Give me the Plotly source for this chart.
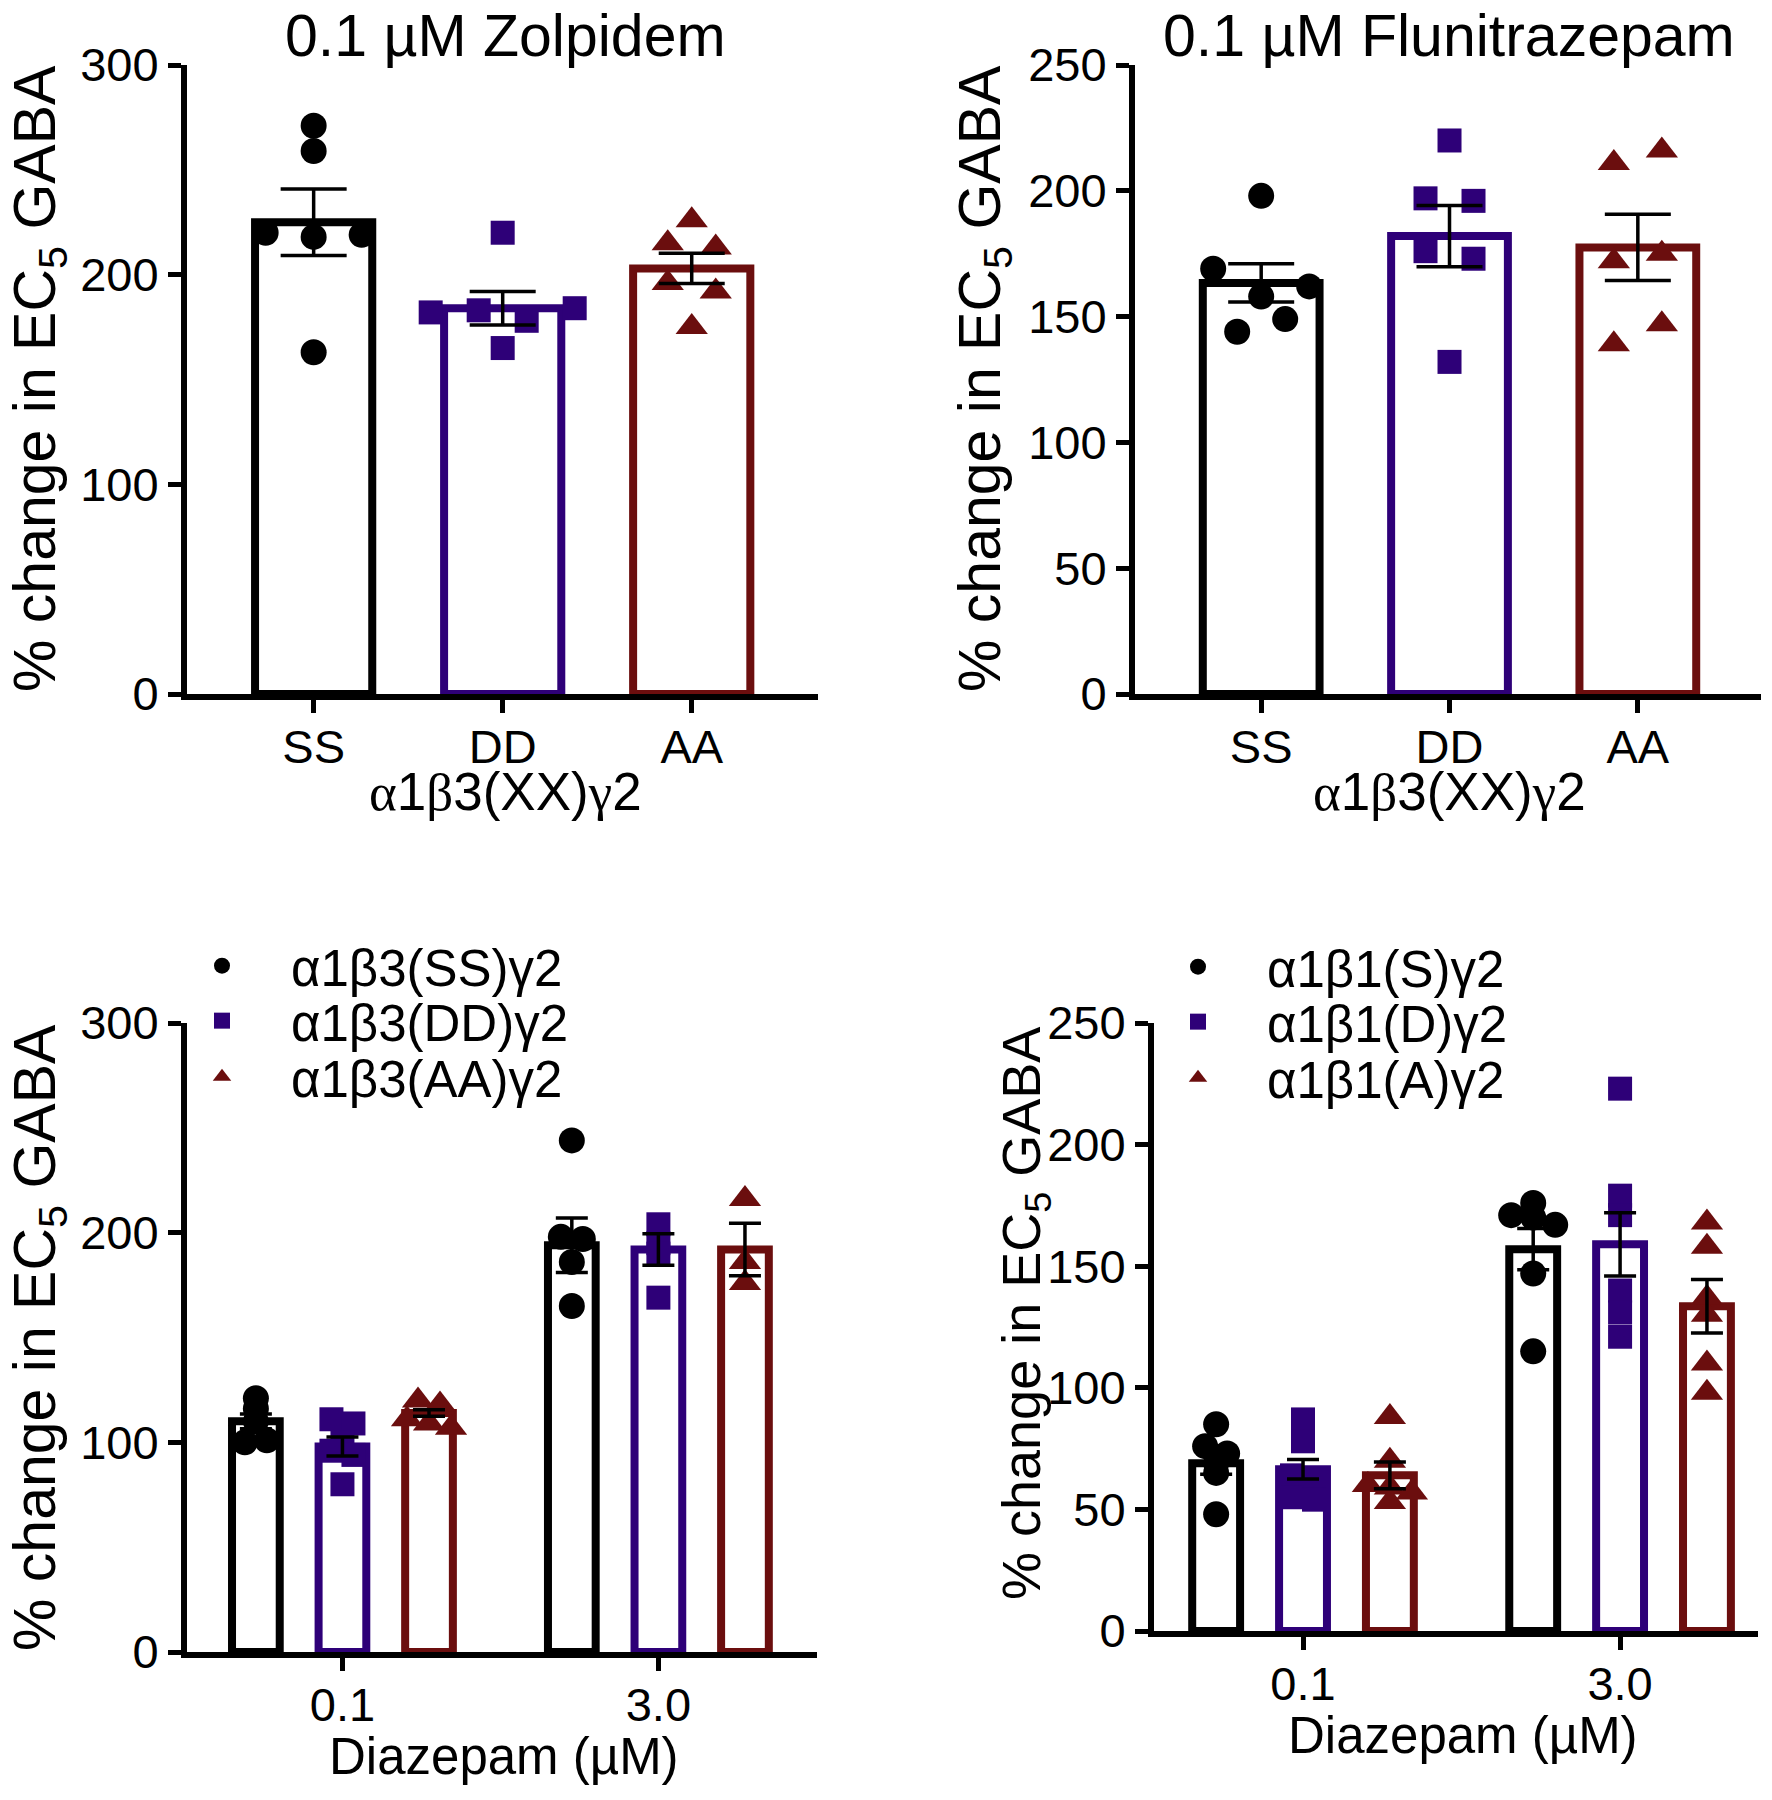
import plotly.graph_objects as go

W, H = 1772, 1800
FONT = "Liberation Sans"
# the page draws the figure a few pixels right/down of its own origin
SHIFT_X, SHIFT_Y = -3, -8

# ---------------- data ----------------
top_cats = ["SS", "DD", "AA"]

zolp_pts = [
    [271, 259, 220, 218, 219, 163],
    [220, 182, 183, 178, 184, 165],
    [226, 215, 213, 196, 192, 175],
]
zolp_mean = [225, 184, 203]
zolp_sem = [15.8, 8.0, 7.2]

fluni_pts = [
    [198, 169, 158, 162, 144, 149],
    [220, 197, 196, 176, 173, 132],
    [211, 216, 172, 175, 139, 147],
]
fluni_mean = [163.4, 182, 177.5]
fluni_sem = [7.6, 12.2, 13.2]

dose_cats = ["0.1", "3.0"]

b3_names = ["α1β3(SS)γ2", "α1β3(DD)γ2", "α1β3(AA)γ2"]
b3_pts = [
    [[121, 116, 110, 100, 101], [244, 198, 197, 186, 165]],
    [[111, 109, 100, 96, 94, 80], [204, 195, 190, 169]],
    [[120, 118, 111, 109, 107], [216, 186, 176]],
]
b3_mean = [[110, 194], [98, 192], [114, 192]]
b3_sem = [[3.5, 13], [4.5, 7.5], [1.5, 12.5]]

b1_names = ["α1β1(S)γ2", "α1β1(D)γ2", "α1β1(A)γ2"]
b1_pts = [
    [[85, 76, 73, 69, 65, 48], [176, 171, 170, 167, 147, 115]],
    [[87, 78, 64, 62, 55, 54], [223, 179, 171, 140, 131, 121]],
    [[88, 70, 60, 59, 57, 53], [168, 158, 137, 130, 110, 98]],
]
b1_mean = [[69, 157], [66.5, 159], [64, 133.5]]
b1_sem = [[4.5, 8.5], [4, 13], [5.5, 11]]

# ---------------- styles ----------------
COLORS = ["#000000", "#2E0078", "#6B0E0E"]
SYMBOLS = ["circle", "square", "triangle-up"]
SIZES = [26, 24, 28]


def px_x(x):
    return (x + SHIFT_X) / W


def px_y(y):
    return 1 - (y + SHIFT_Y) / H


# panel boxes in pixels: (x0, x1, ytop, ybottom), x range, y max, y step
panels = {
    "A": dict(ax="", box=(182, 813, 65, 694), xr=[-0.67, 2.668], ymax=300, dy=100),
    "B": dict(ax="2", box=(1130, 1756, 65, 694), xr=[-0.67, 2.654], ymax=250, dy=50),
    "C": dict(ax="3", box=(182, 812, 1023, 1652), xr=[-0.492, 1.502], ymax=300, dy=100),
    "D": dict(ax="4", box=(1149, 1753, 1023, 1631), xr=[-0.47, 1.435], ymax=250, dy=50),
}


def scales(p):
    x0, x1, yt, yb = p["box"]
    return (yb - yt) / p["ymax"], (x1 - x0) / (p["xr"][1] - p["xr"][0])


def swarm(vals, px_val, px_xu, step_px, thr_px):
    """Spread points with close values sideways, like a column scatter."""
    order = sorted(range(len(vals)), key=lambda i: vals[i])
    clusters, cur = [], [order[0]]
    for i in order[1:]:
        if (vals[i] - vals[cur[-1]]) * px_val < thr_px:
            cur.append(i)
        else:
            clusters.append(cur)
            cur = [i]
    clusters.append(cur)
    offs = [0.0] * len(vals)
    for c in clusters:
        c = sorted(c)
        k = len(c)
        for j, i in enumerate(c):
            offs[i] = (j - (k - 1) / 2) * step_px / px_xu
    return offs


fig = go.Figure()


def add_series(p, xs, means, sems, pts_list, k, name, legend, bar_w, step_px, thr_px, cap):
    ax = p["ax"]
    px_val, px_xu = scales(p)
    fig.add_trace(go.Bar(
        x=xs, y=means, width=bar_w, marker=dict(color="white", line=dict(color=COLORS[k], width=8)),
        xaxis="x" + ax, yaxis="y" + ax, showlegend=False, hoverinfo="skip"))
    sx, sy = [], []
    for xc, vals in zip(xs, pts_list):
        offs = swarm(vals, px_val, px_xu, step_px, thr_px)
        sx += [xc + o for o in offs]
        sy += vals
    fig.add_trace(go.Scatter(
        x=sx, y=sy, mode="markers", name=name,
        marker=dict(symbol=SYMBOLS[k], size=SIZES[k], color=COLORS[k], line=dict(width=0)),
        xaxis="x" + ax, yaxis="y" + ax, showlegend=legend is not None,
        legend=legend if legend else "legend"))
    return dict(x=xs, y=means, sem=sems, ax=ax, cap=cap)


errs = []

# top panels: one bar per construct
for key, pts, means, sems in [("A", zolp_pts, zolp_mean, zolp_sem), ("B", fluni_pts, fluni_mean, fluni_sem)]:
    p = panels[key]
    for k in range(3):
        errs.append(add_series(p, [k], [means[k]], [sems[k]], [pts[k]], k, top_cats[k],
                               None, 0.62, 48, 21, 33))

# bottom panels: grouped by dose, one legend box per entry
legend_rows = {"C": (148, [966, 1021, 1077]), "D": (1124, [967, 1022, 1078])}
legend_ids = {"C": ["legend", "legend2", "legend3"], "D": ["legend4", "legend5", "legend6"]}
for key, names, pts, means, sems in [("C", b3_names, b3_pts, b3_mean, b3_sem),
                                     ("D", b1_names, b1_pts, b1_mean, b1_sem)]:
    p = panels[key]
    for k in range(3):
        xs = [g + (k - 1) * 0.274 for g in range(len(dose_cats))]
        errs.append(add_series(p, xs, means[k], sems[k], pts[k], k, names[k],
                               legend_ids[key][k], 0.151, 22, 8, 16))

# error bars drawn last so they sit on top of the points
for e in errs:
    fig.add_trace(go.Scatter(
        x=e["x"], y=e["y"], mode="markers", marker=dict(size=1, opacity=0),
        error_y=dict(type="data", array=e["sem"], color="black", thickness=3.5, width=e["cap"]),
        xaxis="x" + e["ax"], yaxis="y" + e["ax"], showlegend=False, hoverinfo="skip"))

axis_common = dict(showline=True, linecolor="black", linewidth=6, ticks="outside",
                   tickwidth=5, ticklen=13, tickcolor="black", showgrid=False, zeroline=False,
                   tickfont=dict(family=FONT, size=47, color="black"), fixedrange=True,
                   automargin=False)

layout = dict(width=W, height=H, margin=dict(l=0, r=0, t=0, b=0, autoexpand=False),
              paper_bgcolor="white", plot_bgcolor="white", template="simple_white",
              font=dict(family=FONT, color="black"), barmode="overlay")

for key, p in panels.items():
    ax = p["ax"]
    x0, x1, yt, yb = p["box"]
    cats = top_cats if key in "AB" else dose_cats
    layout["xaxis" + ax] = dict(axis_common, domain=[px_x(x0), px_x(x1)], range=p["xr"],
                                tickvals=list(range(len(cats))), ticktext=cats,
                                anchor="y" + ax, ticklabelstandoff=-6)
    layout["yaxis" + ax] = dict(axis_common, domain=[px_y(yb), px_y(yt)],
                                range=[0, p["ymax"]], dtick=p["dy"], anchor="x" + ax)

legend_common = dict(font=dict(family=FONT, size=51, color="black"), bgcolor="rgba(0,0,0,0)",
                     xanchor="left", yanchor="middle", itemwidth=128)
for key in ["C", "D"]:
    lx, rows = legend_rows[key]
    for lid, ry in zip(legend_ids[key], rows):
        layout[lid] = dict(legend_common, x=px_x(lx), y=px_y(ry))

fig.update_layout(**layout)

greek = '<span style="font-family:Liberation Serif">{}</span>'
xx_title = greek.format("α") + "1" + greek.format("β") + "3(XX)" + greek.format("γ") + "2"
ytitle = "% change in EC<sub>5</sub> GABA"

annots = [
    dict(text="0.1 µM Zolpidem", x=500, y=36, size=59, angle=0),
    dict(text="0.1 µM Flunitrazepam", x=1444, y=36, size=59, angle=0),
    dict(text=xx_title, x=500, y=792, size=53, angle=0),
    dict(text=xx_title, x=1444, y=792, size=53, angle=0),
    dict(text="Diazepam (µM)", x=499, y=1756, size=51, angle=0),
    dict(text="Diazepam (µM)", x=1458, y=1735, size=51, angle=0),
    dict(text=ytitle, x=34, y=379, size=59, angle=-90),
    dict(text=ytitle, x=979, y=379, size=59, angle=-90),
    dict(text=ytitle, x=34, y=1338, size=59, angle=-90),
    dict(text=ytitle, x=1020, y=1313, size=54, angle=-90),
]
for a in annots:
    fig.add_annotation(text=a["text"], x=px_x(a["x"]), y=px_y(a["y"]), xref="paper", yref="paper",
                       xanchor="center", yanchor="middle", showarrow=False, textangle=a["angle"],
                       font=dict(family=FONT, size=a["size"], color="black"))

fig.write_html("out.html")
